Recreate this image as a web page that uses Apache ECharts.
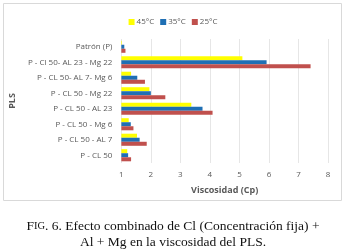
<!DOCTYPE html>
<html>
<head>
<meta charset="utf-8">
<script src="https://cdn.jsdelivr.net/npm/echarts@6/dist/echarts.min.js"></script>
<style>
  html, body { margin: 0; padding: 0; background: #fff; }
  #chart { width: 346px; height: 249px; }
</style>
</head>
<body>
<div id="chart"></div>
<script>
// categories from bottom to top
const categories = [
  "P - CL 50",
  "P - CL 50 - AL 7",
  "P - CL 50 - Mg 6",
  "P - CL 50 - AL 23",
  "P - CL 50 - Mg 22",
  "P - CL 50- AL 7- Mg 6",
  "P - Cl 50- AL 23 - Mg 22",
  "Patrón (P)"
];
const t45 = [1.2, 1.53, 1.25, 3.37, 1.95, 1.33, 5.1, 1.02];
const t35 = [1.23, 1.62, 1.32, 3.75, 2.0, 1.54, 5.92, 1.1];
const t25 = [1.33, 1.86, 1.41, 4.09, 2.49, 1.8, 7.41, 1.14];
const xTicks = [1, 2, 3, 4, 5, 6, 7, 8];

const chart = echarts.init(document.getElementById("chart"));

const labelColor = "#595959";
const serif = { fontFamily: "Liberation Serif", fill: "#111" };

const option = {
  animation: false,
  legend: {
    top: 13,
    left: "center",
    itemWidth: 6,
    itemHeight: 6,
    itemGap: 6,
    icon: "rect",
    textStyle: { fontSize: 8, color: labelColor, fontFamily: "Open Sans", padding: [0, 0, 0, -3] },
    data: ["45°C", "35°C", "25°C"]
  },
  grid: { left: 116, right: 18, top: 39, bottom: 86 },
  xAxis: {
    type: "value",
    min: xTicks[0],
    max: xTicks[xTicks.length - 1],
    interval: 1,
    name: "Viscosidad (Cp)",
    nameLocation: "middle",
    nameGap: 23,
    nameTextStyle: { fontSize: 9, color: labelColor, fontWeight: "bold", fontFamily: "Open Sans" },
    axisLine: { show: false },
    axisTick: { show: false },
    axisLabel: { fontSize: 8, color: labelColor, margin: 8, fontFamily: "Open Sans" },
    splitLine: { lineStyle: { color: "#e6e6e6", width: 1 } }
  },
  yAxis: {
    type: "category",
    data: categories,
    name: "PLS",
    nameLocation: "middle",
    nameGap: 86,
    nameTextStyle: { fontSize: 9, color: labelColor, fontWeight: "bold", fontFamily: "Open Sans" },
    axisLine: { show: false },
    axisTick: { show: false },
    axisLabel: { fontSize: 8, color: labelColor, margin: 9, fontFamily: "Open Sans" }
  },
  series: [
    { name: "45°C", type: "bar", data: t45, itemStyle: { color: "#FFFF00" }, barGap: "0%", barCategoryGap: "22%" },
    { name: "35°C", type: "bar", data: t35, itemStyle: { color: "#1F6FB4" }, barGap: "0%", barCategoryGap: "22%" },
    { name: "25°C", type: "bar", data: t25, itemStyle: { color: "#C0504D" }, barGap: "0%", barCategoryGap: "22%" }
  ],
  graphic: [
    {
      type: "rect",
      shape: { x: 3.5, y: 3.5, width: 338, height: 197 },
      style: { fill: "none", stroke: "#d9d9d9", lineWidth: 1 },
      silent: true
    },
    {
      type: "text",
      left: "center",
      top: 219,
      style: {
        text: "{big|F}{small|IG}{n|. 6. Efecto combinado de Cl (Concentración fija) +}",
        rich: {
          big: Object.assign({ fontSize: 13.5 }, serif),
          small: Object.assign({ fontSize: 10.5 }, serif),
          n: Object.assign({ fontSize: 13.5 }, serif)
        }
      }
    },
    {
      type: "text",
      left: "center",
      top: 235,
      style: Object.assign({ text: "Al + Mg en la viscosidad del PLS.", fontSize: 13.5 }, serif)
    }
  ]
};

chart.setOption(option);
</script>
</body>
</html>
